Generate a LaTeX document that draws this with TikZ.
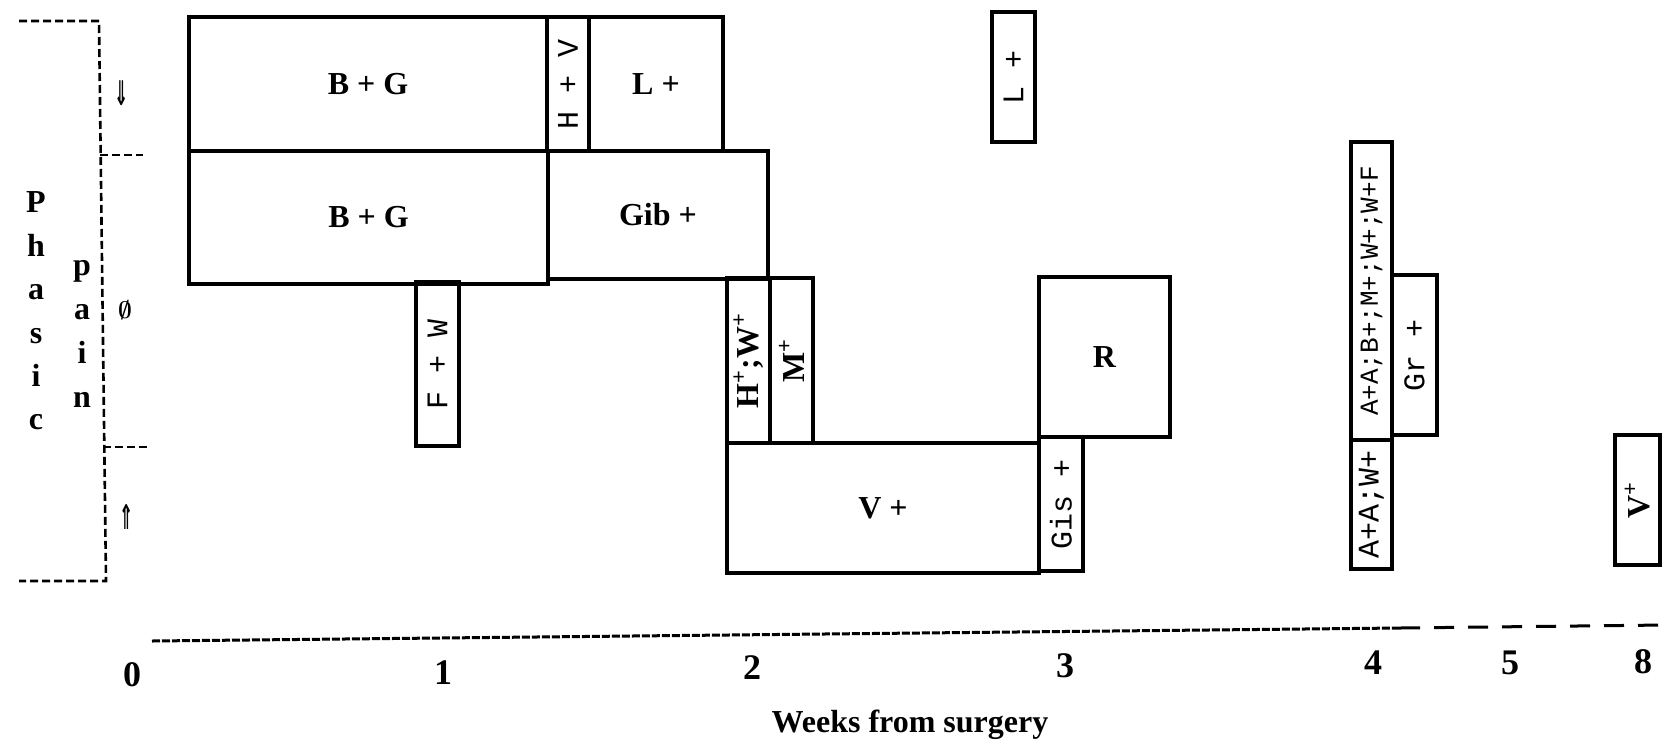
\documentclass[tikz,border=0pt]{standalone}
\usepackage{fontspec}
\setmainfont{Liberation Serif}
\setmonofont{Liberation Mono}
\newfontfamily\symfont{DejaVu Sans}
\usepackage{graphicx}
\usepackage{tikz}
\usetikzlibrary{positioning}

\begin{document}
\begin{tikzpicture}[
    x=0.5pt, y=-0.5pt,
    cell/.style={rectangle, draw, line width=1.7pt, inner sep=0pt, font=\fontsize{16}{16}\selectfont\bfseries},
    vcell/.style={cell, rotate=90, font=\fontsize{15}{15}\selectfont\ttfamily},
    letter/.style={anchor=base, inner sep=0pt, font=\fontsize{16}{16}\selectfont\bfseries},
    tick/.style={inner sep=0pt, font=\fontsize{18}{18}\selectfont\bfseries},
    bracket/.style={line width=1.3pt, dash pattern=on 4pt off 2pt}
]
    \useasboundingbox (0,0) rectangle (1665,745);

    % Phasic pain
    \coordinate (brTL) at (19,21);
    \coordinate (brTR) at (99,21);
    \coordinate (brBR) at (106,581);
    \coordinate (brBL) at (19,581);
    \coordinate (midHi) at (100,155);
    \coordinate (midLo) at (103,447);
    \draw[bracket] (brTL) -- (brTR) -- (brBR) -- (brBL);
    \draw[bracket] (midHi) -- ++(43,0);
    \draw[bracket] (midLo) -- ++(45,0);

    \node[letter] (ph1) at (36,212) {P};
    \node[letter] (ph2) at (36,256) {h};
    \node[letter] (ph3) at (36,299) {a};
    \node[letter] (ph4) at (36,343) {s};
    \node[letter] (ph5) at (36,386) {i};
    \node[letter] (ph6) at (36,429) {c};
    \node[letter] (pa1) at (82,275) {p};
    \node[letter] (pa2) at (82,319) {a};
    \node[letter] (pa3) at (82,363) {i};
    \node[letter] (pa4) at (82,407) {n};

    \node[inner sep=0pt, font=\symfont\bfseries\fontsize{17}{17}\selectfont] (down) at (122,93) {\scalebox{0.5}[1]{⇓}};
    \node[inner sep=0pt, font=\boldmath\fontsize{13}{13}\selectfont] (nochange) at (125,310) {$\emptyset$};
    \node[inner sep=0pt, font=\symfont\bfseries\fontsize{17}{17}\selectfont] (up) at (127,517) {\scalebox{0.5}[1]{⇑}};

    % Boxes
    \node[cell, minimum width=179pt, minimum height=67pt] (bgTop) at (368,84) {B + G};
    \node[vcell, minimum width=67pt, minimum height=21pt] (hv) at (568,84) {H + V};
    \node[cell, minimum width=67pt, minimum height=67pt] (lTop) at (656,84) {L +};
    \node[cell, minimum width=179.5pt, minimum height=66.5pt] (bgBot) at (368.5,217.5) {B + G};
    \node[cell, minimum width=110pt, minimum height=64pt] (gib) at (658,215) {Gib +};
    \node[vcell, minimum width=82pt, minimum height=21.5pt] (fw) at (437.5,364) {F + W};
    \node[cell, rotate=90, minimum width=82.5pt, minimum height=21.5pt] (hw) at (748.5,360.5) {H\textsuperscript{+};W\textsuperscript{+}};
    \node[cell, rotate=90, minimum width=82.5pt, minimum height=21.5pt] (m) at (791.5,360.5) {M\textsuperscript{+}};
    \node[cell, minimum width=156pt, minimum height=65pt] (vMid) at (883,508) {V +};
    \node[cell, minimum width=65.5pt, minimum height=80pt] (r) at (1104.5,357) {R};
    \node[vcell, minimum width=67pt, minimum height=22pt] (gis) at (1061,504) {Gis +};
    \node[vcell, minimum width=65pt, minimum height=21.5pt] (lRight) at (1013.5,77) {L +};
    \node[vcell, minimum width=149pt, minimum height=20.5pt, font=\fontsize{13}{13}\selectfont\ttfamily] (aab) at (1371.5,291) {A+A;B+;M+;W+;W+F};
    \node[vcell, minimum width=64.5pt, minimum height=20.5pt] (aaw) at (1371.5,504.5) {A+A;W+};
    \node[vcell, minimum width=80pt, minimum height=22.5pt] (gr) at (1414.5,355) {Gr +};
    \node[cell, rotate=90, minimum width=65pt, minimum height=22.5pt] (vRight) at (1637.5,500) {V\textsuperscript{+}};

    % Time axis
    \coordinate (axL) at (152,641);
    \coordinate (axM) at (1400,628);
    \coordinate (axR) at (1665,625);
    \draw[line width=1.5pt, dash pattern=on 4pt off 1pt] (axL) -- (axM);
    \draw[line width=1.5pt, dash pattern=on 10pt off 7pt] (axM) -- (axR);

    \node[tick] (t0) at (132,675) {0};
    \node[tick] (t1) at (443,673) {1};
    \node[tick] (t2) at (752,668) {2};
    \node[tick] (t3) at (1065,666) {3};
    \node[tick] (t4) at (1373,663) {4};
    \node[tick] (t5) at (1510,663) {5};
    \node[tick] (t8) at (1643,662) {8};
    \node[inner sep=0pt, font=\fontsize{16}{16}\selectfont\bfseries] (weeks) at (910,725) {Weeks from surgery};
\end{tikzpicture}
\end{document}
